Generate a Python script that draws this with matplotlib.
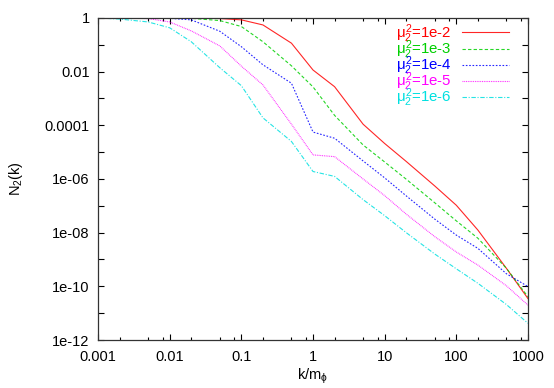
import numpy as np
import matplotlib.pyplot as plt
from matplotlib.ticker import FixedLocator, NullFormatter

plt.rcParams['font.family'] = ['Liberation Sans', 'DejaVu Sans']
plt.rcParams['mathtext.fontset'] = 'custom'
plt.rcParams['mathtext.rm'] = 'Liberation Sans'
plt.rcParams['mathtext.it'] = 'Liberation Sans'

# momentum grid
k = [0.001, 0.002, 0.005, 0.01, 0.02, 0.05, 0.1, 0.2, 0.5, 1, 2, 5,
     10, 20, 50, 100, 200, 500, 1000]

# N2(k) for each mu^2
n_1e2 = [1, 1, 1, 1, 1, 0.95, 0.85, 0.55, 0.115, 1.15e-2, 2.75e-3, 1.1e-4,
         2.1e-5, 4.5e-6, 5.5e-7, 1.05e-7, 1.25e-8, 4.7e-10, 3.5e-11]
n_1e3 = [1, 1, 1, 1, 0.97, 0.8, 0.48, 0.13, 1.65e-2, 2.7e-3, 2.35e-4, 1.85e-5,
         4.3e-6, 9.8e-7, 1.3e-7, 2.75e-8, 6.2e-9, 4.7e-10, 4.1e-11]
n_1e4 = [1, 1, 1, 0.97, 0.85, 0.32, 8.5e-2, 1.8e-2, 3.7e-3, 5.6e-5, 3.3e-5, 4.7e-6,
         1.1e-6, 2.35e-7, 3.2e-8, 8.1e-9, 2.6e-9, 2.95e-10, 9.8e-11]
n_1e5 = [1, 1, 0.95, 0.71, 0.33, 9.1e-2, 1.6e-2, 3.2e-3, 1.1e-4, 7.9e-6, 6.8e-6, 1.0e-6,
         2.4e-7, 4.9e-8, 7.1e-9, 1.9e-9, 6.2e-10, 1.05e-10, 2.0e-11]
n_1e6 = [1, 0.91, 0.71, 0.43, 0.13, 1.4e-2, 3.0e-3, 1.9e-4, 2.5e-5, 1.9e-6, 1.25e-6, 1.7e-7,
         4.3e-8, 1.0e-8, 1.6e-9, 4.5e-10, 1.3e-10, 2.1e-11, 4.2e-12]

labels = ['1e-2', '1e-3', '1e-4', '1e-5', '1e-6']
colors = ['#ff0000', '#00d000', '#0000ff', '#ff00ff', '#00e0e0']
styles = ['-', (0, (3, 2)), (0, (1.5, 1.5)), (0, (0.8, 0.8)), (0, (4, 1.5, 1, 1.5))]

fig = plt.figure(figsize=(5.54, 3.88), dpi=100)
ax = fig.add_axes([0.177, 0.1237, 0.776, 0.83])

for n, lab, c, ls in zip([n_1e2, n_1e3, n_1e4, n_1e5, n_1e6], labels, colors, styles):
    ax.plot(k, n, color=c, linestyle=ls, linewidth=0.8, alpha=0.85,
            label=r'$\mu_2^2$=' + lab)

ax.set_xscale('log')
ax.set_yscale('log')
ax.set_xlim(0.001, 1000)
ax.set_ylim(1e-12, 1)

xmaj = [10.0 ** e for e in range(-3, 4)]
ax.set_xticks(xmaj)
ax.set_xticklabels(['0.001', '0.01', '0.1', '1', '10', '100', '1000'])
xmin = [m * 10.0 ** e for e in range(-3, 3) for m in (2, 5, 8)]
ax.xaxis.set_minor_locator(FixedLocator(xmin))
ax.xaxis.set_minor_formatter(NullFormatter())

ymaj = [10.0 ** e for e in range(-12, 1)]
ax.set_yticks(ymaj)
ylab = []
for e in range(-12, 1):
    if e % 2 != 0:
        ylab.append('')
    elif e == 0:
        ylab.append('1')
    elif e >= -4:
        ylab.append(('%.*f' % (-e, 10.0 ** e)))
    else:
        ylab.append('1e-%02d' % (-e))
ax.set_yticklabels(ylab)
ax.yaxis.set_minor_locator(FixedLocator([]))

ax.tick_params(which='both', direction='in', top=True, right=True,
               labelsize=10.5, colors='black')
ax.tick_params(which='major', length=4.5, width=0.8, pad=7)
ax.tick_params(which='minor', length=2.5, width=0.8)
ax.tick_params(axis='y', pad=6)
for s in ax.spines.values():
    s.set_linewidth(0.9)
    s.set_color('#333333')

ax.set_xlabel(r'k/m$_\phi$', fontsize=10.5, labelpad=2)
ax.set_ylabel(r'N$_2$(k)', fontsize=10.5, labelpad=14)

leg = ax.legend(loc='upper right', bbox_to_anchor=(0.98, 1.02), frameon=False,
                markerfirst=False, fontsize=10.8, handlelength=3.1,
                labelspacing=-0.43, handletextpad=0.7, borderpad=0.2,
                labelcolor=colors)

plt.savefig('out.png', dpi=100)
